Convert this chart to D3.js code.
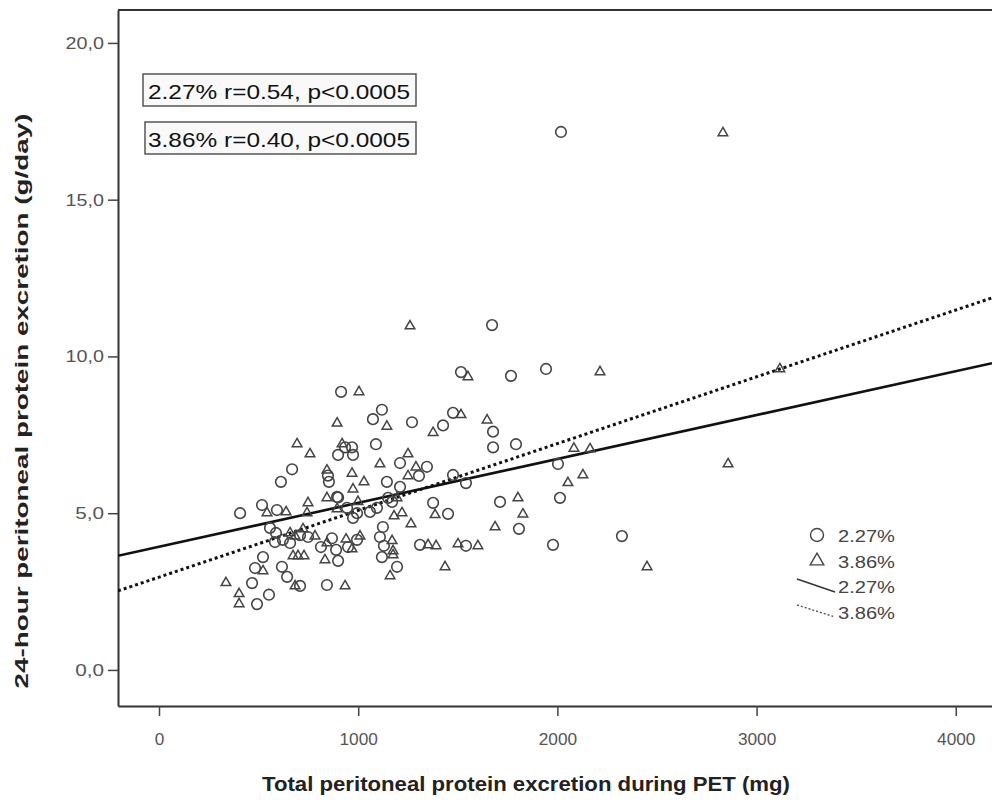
<!DOCTYPE html>
<html>
<head>
<meta charset="utf-8">
<script src="https://cdn.jsdelivr.net/npm/d3@7"></script>
<style>
  body { margin: 0; background: #fff; }
  svg { display: block; font-family: "Liberation Sans", Arial, sans-serif; }
</style>
</head>
<body>
<svg id="chart" width="992" height="805"></svg>
<script>
// 2.27% glucose group: [total PET protein (mg), 24h protein (g/day)]
const group227 = [
  [2018,17.16],[1672,11.0],[1516,9.5],[1767,9.38],[1943,9.6],[1119,8.3],[1270,7.9],[1426,7.8],
  [1476,8.2],[1677,7.6],[1677,7.1],[1792,7.2],[914,8.87],[1074,8.0],[969,7.1],[1089,7.2],
  [899,6.86],[668,6.4],[612,6.0],[848,6.2],[853,6.0],[899,5.5],[934,7.1],[974,6.86],
  [1210,6.6],[1345,6.48],[1305,6.19],[1144,6.0],[1210,5.84],[1476,6.22],[1541,5.96],[894,5.52],
  [517,5.26],[407,5.0],[592,5.1],[944,5.17],[994,5.0],[1059,5.04],[1094,5.17],[974,4.85],
  [1124,4.56],[557,4.53],[587,4.37],[622,4.15],[708,4.3],[748,4.24],[658,4.05],[582,4.08],
  [813,3.92],[868,4.2],[889,3.83],[899,3.48],[949,3.92],[994,4.15],[1109,4.24],[1119,3.6],
  [1195,3.29],[522,3.6],[482,3.25],[467,2.77],[552,2.4],[492,2.1],[617,3.29],[643,2.97],
  [708,2.68],[843,2.71],[2003,6.57],[2013,5.49],[1376,5.33],[1451,4.98],[1712,5.36],[1807,4.5],
  [1310,3.99],[1541,3.96],[1978,3.99],[1129,3.96],[2324,4.27],[1170,5.36],[1150,5.49]
];

// 3.86% glucose group
const group386 = [
  [2831,17.16],[1260,11.0],[1551,9.38],[1144,7.8],[1376,7.6],[1516,8.17],[1647,8.0],[2083,7.1],
  [1004,8.9],[894,7.9],[693,7.24],[919,7.24],[758,6.92],[843,6.4],[1250,6.92],[1109,6.6],
  [1290,6.5],[969,6.3],[1250,6.22],[1029,6.03],[974,5.8],[843,5.52],[748,5.36],[542,5.04],
  [638,5.07],[743,5.04],[999,5.4],[894,5.17],[1180,4.94],[658,4.4],[683,4.3],[723,4.53],
  [783,4.3],[673,3.67],[698,3.67],[728,3.67],[843,4.08],[833,3.54],[939,4.2],[969,3.89],
  [1009,4.3],[1170,4.15],[1175,3.83],[1160,3.03],[522,3.19],[336,2.81],[402,2.46],[402,2.14],
  [683,2.71],[934,2.71],[2053,6.0],[1386,4.98],[1220,5.04],[1265,4.69],[1802,5.52],[1827,5.0],
  [1687,4.59],[1351,4.02],[1391,3.99],[1501,4.05],[1601,3.99],[1175,3.7],[1436,3.32],[2214,9.54],
  [3117,9.63],[2164,7.08],[2857,6.6],[2128,6.25],[2450,3.32],[1195,5.52]
];

// fit lines: [intercept, slope]
const fit227 = [3.93, 0.00140];
const fit386 = [2.96, 0.00213];

const xTicks = [0, 1000, 2000, 3000, 4000];
const yTicks = [0, 5, 10, 15, 20];
const statLabels = ["2.27% r=0.54, p<0.0005", "3.86% r=0.40, p<0.0005"];
const legendLabels = ["2.27%", "3.86%"];

const svg = d3.select("#chart");
const plotLeft = 118, plotRight = 992, plotTop = 10, plotBottom = 706;

const x = d3.scaleLinear().domain([-206, 4182]).range([plotLeft, plotRight]);
const y = d3.scaleLinear().domain([-1.15, 21.05]).range([plotBottom, plotTop]);

svg.append("clipPath").attr("id", "plotClip")
  .append("rect")
    .attr("x", plotLeft).attr("y", plotTop)
    .attr("width", plotRight - plotLeft).attr("height", plotBottom - plotTop);

// axes
const yAxis = svg.append("g")
    .attr("transform", `translate(${plotLeft},0)`)
    .call(d3.axisLeft(y).tickValues(yTicks).tickSize(10).tickSizeOuter(0)
      .tickFormat((d) => d.toFixed(1).replace(".", ",")));

const xAxis = svg.append("g")
    .attr("transform", `translate(0,${plotBottom})`)
    .call(d3.axisBottom(x).tickValues(xTicks).tickSize(10).tickSizeOuter(0)
      .tickFormat(d3.format("d")));

[yAxis, xAxis].forEach((ax) => {
  ax.select(".domain").attr("stroke", "#333").attr("stroke-width", 2);
  ax.selectAll(".tick line").attr("stroke", "#444").attr("stroke-width", 1.5);
  ax.selectAll(".tick text")
    .attr("fill", "#555")
    .style("font-size", "17px")
    .attr("textLength", function() { return this.textContent.length * 9.6; })
    .attr("lengthAdjust", "spacingAndGlyphs");
});
yAxis.selectAll(".tick text").attr("x", -14);
xAxis.selectAll(".tick text").attr("y", 27);

// top frame line
svg.append("line")
    .attr("x1", plotLeft).attr("x2", plotRight)
    .attr("y1", plotTop).attr("y2", plotTop)
    .attr("stroke", "#333").attr("stroke-width", 2);

// axis titles
svg.append("text")
    .attr("transform", `translate(28,401) rotate(-90)`)
    .attr("text-anchor", "middle")
    .attr("textLength", 575)
    .attr("lengthAdjust", "spacingAndGlyphs")
    .style("font-size", "19px")
    .style("font-weight", "700")
    .attr("fill", "#222")
    .text("24-hour peritoneal protein excretion (g/day)");

svg.append("text")
    .attr("x", 526).attr("y", 791)
    .attr("text-anchor", "middle")
    .attr("textLength", 528)
    .attr("lengthAdjust", "spacingAndGlyphs")
    .style("font-size", "20px")
    .style("font-weight", "700")
    .attr("fill", "#222")
    .text("Total peritoneal protein excretion during PET (mg)");

// fit lines
const plot = svg.append("g").attr("clip-path", "url(#plotClip)");
const xd = x.domain();
const fitLine = (fit) => xd.map((v) => [x(v), y(fit[0] + fit[1] * v)]);

plot.append("path")
    .attr("d", d3.line()(fitLine(fit227)))
    .attr("stroke", "#111").attr("stroke-width", 2.6).attr("fill", "none");

plot.append("path")
    .attr("d", d3.line()(fitLine(fit386)))
    .attr("stroke", "#111").attr("stroke-width", 3)
    .attr("stroke-dasharray", "3,3").attr("fill", "none");

// markers
const triangle = d3.symbol().type(d3.symbolTriangle).size(40);

plot.selectAll("circle.p227")
  .data(group227)
  .enter()
  .append("circle")
    .attr("class", "p227")
    .attr("cx", (d) => x(d[0]))
    .attr("cy", (d) => y(d[1]))
    .attr("r", 5.3)
    .attr("fill", "none")
    .attr("stroke", "#444")
    .attr("stroke-width", 1.6);

plot.selectAll("path.p386")
  .data(group386)
  .enter()
  .append("path")
    .attr("class", "p386")
    .attr("d", triangle)
    .attr("transform", (d) => `translate(${x(d[0])},${y(d[1]) + 1})`)
    .attr("fill", "none")
    .attr("stroke", "#444")
    .attr("stroke-width", 1.5);

// stat boxes
statLabels.forEach((label, i) => {
  const g = svg.append("g").attr("transform", `translate(${143 + i * 2},${74 + i * 48})`);
  g.append("rect")
      .attr("width", 273 - i * 2).attr("height", 32)
      .attr("fill", "#f9f9f9")
      .attr("stroke", "#555").attr("stroke-width", 1.5);
  g.append("text")
      .attr("x", 5 - i * 2).attr("y", 25)
      .attr("textLength", 262)
      .attr("lengthAdjust", "spacingAndGlyphs")
      .style("font-size", "21px")
      .attr("fill", "#111")
      .text(label);
});

// legend
const legend = svg.append("g").attr("transform", "translate(797,0)");
legend.append("circle")
    .attr("cx", 20).attr("cy", 535).attr("r", 6.5)
    .attr("fill", "none").attr("stroke", "#444").attr("stroke-width", 1.4);
legend.append("path")
    .attr("d", d3.symbol().type(d3.symbolTriangle).size(80))
    .attr("transform", "translate(20,561)")
    .attr("fill", "none").attr("stroke", "#444").attr("stroke-width", 1.4);
legend.append("line")
    .attr("x1", 0).attr("y1", 579).attr("x2", 38).attr("y2", 592)
    .attr("stroke", "#333").attr("stroke-width", 1.4);
legend.append("line")
    .attr("x1", 0).attr("y1", 605).attr("x2", 38).attr("y2", 617)
    .attr("stroke", "#555").attr("stroke-width", 1.4)
    .attr("stroke-dasharray", "2,2");

legendLabels.concat(legendLabels).forEach((label, i) => {
  legend.append("text")
      .attr("x", 41).attr("y", 542 + i * 25.5)
      .attr("textLength", 57)
      .attr("lengthAdjust", "spacingAndGlyphs")
      .style("font-size", "16px")
      .attr("fill", "#444")
      .text(label);
});
</script>
</body>
</html>
